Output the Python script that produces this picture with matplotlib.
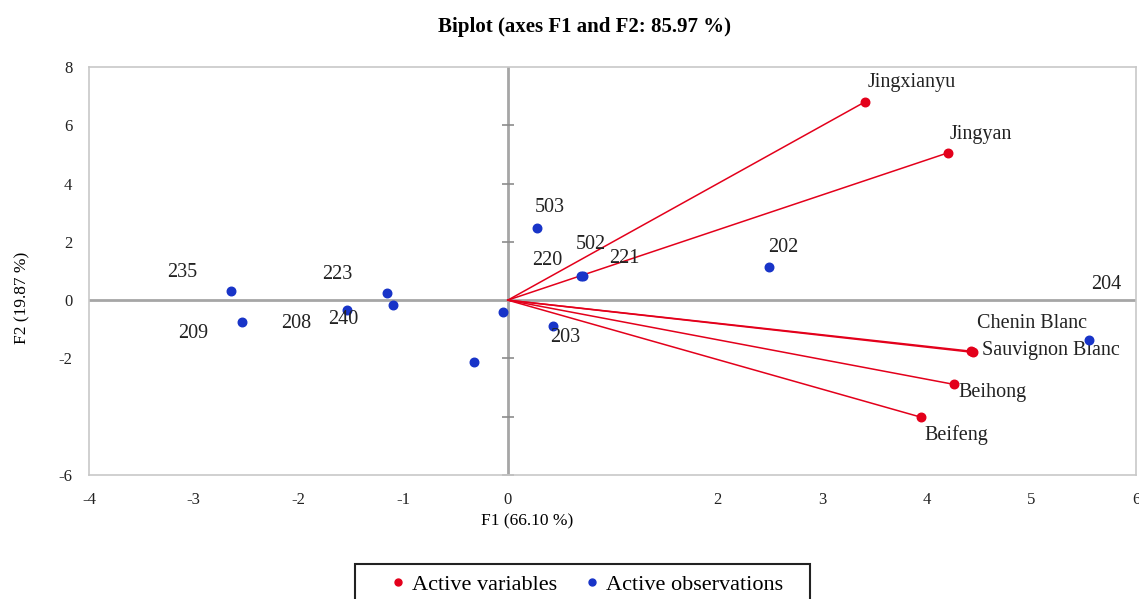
import numpy as np
import matplotlib.pyplot as plt
from matplotlib.lines import Line2D
from matplotlib.patches import Rectangle

plt.rcParams['font.family'] = ['Liberation Serif', 'DejaVu Serif']

# active observations (F1, F2)
obs_names = ['235', '209', '223', '240', '208', '', '220', '503', '203', '221', '502', '202', '204']
obs_f1 = [-2.64, -2.54, -1.15, -1.54, -1.10, -0.32, -0.05, 0.28, 0.43, 0.72, 0.70, 2.49, 5.55]
obs_f2 = [0.31, -0.76, 0.24, -0.34, -0.16, -2.13, -0.42, 2.48, -0.89, 0.82, 0.84, 1.15, -1.38]

# active variables (F1, F2)
var_names = ['Jingxianyu', 'Jingyan', 'Chenin Blanc', 'Sauvignon Blanc', 'Beihong', 'Beifeng']
var_f1 = [3.41, 4.20, 4.42, 4.44, 4.26, 3.95]
var_f2 = [6.80, 5.05, -1.75, -1.79, -2.89, -4.02]

x_ticks = [-4, -3, -2, -1, 0, 2, 3, 4, 5, 6]
y_ticks = [8, 6, 4, 2, 0, -2, -6]

# label offsets in pixels (layout only)
obs_offsets = {'235': (-49, 19), '209': (-49, -11), '223': (-50, 19), '240': (-3, -9),
               '208': (-96, -19), '220': (45, 52), '503': (13, 20), '203': (12, -11),
               '221': (41, 18), '502': (10, 31), '202': (15, 19), '204': (17, 56), '': (0, 0)}
var_offsets = {'Jingxianyu': (47, 19), 'Jingyan': (33, 18), 'Chenin Blanc': (61, 28),
               'Sauvignon Blanc': (78, 2), 'Beihong': (39, -8), 'Beifeng': (35, -18)}

RED = '#e3001b'
BLUE = '#1834c8'
GRAY = '#a6a6a6'

fig = plt.figure(figsize=(11.39, 5.99), dpi=100)
ax = fig.add_axes([89 / 1139, 1 - 475 / 599, (1136 - 89) / 1139, (475 - 67) / 599])
ax.set_xlim(-4, 6)
ax.set_ylim(-6, 8)

for s in ax.spines.values():
    s.set_color('#c8c8c8')
    s.set_linewidth(1.2)

ax.axhline(0, color=GRAY, lw=2, zorder=1)
ax.axvline(0, color=GRAY, lw=2, zorder=1)
for yt in [-6, -4, -2, 2, 4, 6]:
    ax.plot([0], [yt], marker='_', ms=9, mew=1.2, color='#8c8c8c', zorder=1)

ax.set_xticks(x_ticks)
ax.set_xticklabels([str(t) for t in x_ticks])
ax.set_yticks(y_ticks)
ax.set_yticklabels([str(t) for t in y_ticks])
ax.tick_params(length=0, labelsize=12, colors='#222222', pad=12)

# vectors
for name, x, y in zip(var_names, var_f1, var_f2):
    ax.plot([0, x], [0, y], color=RED, lw=1.1, zorder=2)
ax.scatter(var_f1, var_f2, s=38, color=RED, zorder=4)
for name, x, y in zip(var_names, var_f1, var_f2):
    ax.annotate(name, (x, y), xytext=var_offsets[name], textcoords='offset pixels',
                ha='center', va='center', fontsize=14.5, color='#222222')

ax.scatter(obs_f1, obs_f2, s=38, color=BLUE, zorder=3)
for name, x, y in zip(obs_names, obs_f1, obs_f2):
    if name:
        ax.annotate(name, (x, y), xytext=obs_offsets[name], textcoords='offset pixels',
                    ha='center', va='center', fontsize=14.5, color='#222222')

fig.text(584 / 1139, 1 - 27 / 599, 'Biplot (axes F1 and F2: 85.97 %)', ha='center', va='center',
         fontsize=15, fontweight='bold')
fig.text(527 / 1139, 1 - 521 / 599, 'F1 (66.10 %)', ha='center', va='center', fontsize=12.5)
fig.text(22 / 1139, 1 - 298 / 599, 'F2 (19.87 %)', ha='center', va='center', rotation=90, fontsize=12.5)

# legend box (runs off the bottom edge like the original)
fig.patches.append(Rectangle((355 / 1139, -0.05), (810 - 355) / 1139, 0.05 + (599 - 564) / 599,
                             transform=fig.transFigure, fill=False, edgecolor='#222222', lw=1.5))
handles = [Line2D([], [], ls='none', marker='o', ms=5, color=RED),
           Line2D([], [], ls='none', marker='o', ms=5, color=BLUE)]
leg = fig.legend(handles, ['Active variables', 'Active observations'], ncol=2,
                 loc='upper center', bbox_to_anchor=(585 / 1139, 1 - 564 / 599),
                 frameon=False, fontsize=16, handletextpad=0.1,
                 handlelength=1.0, columnspacing=1.1, borderpad=0.45, borderaxespad=0)

fig.savefig('out.png', dpi=100)
